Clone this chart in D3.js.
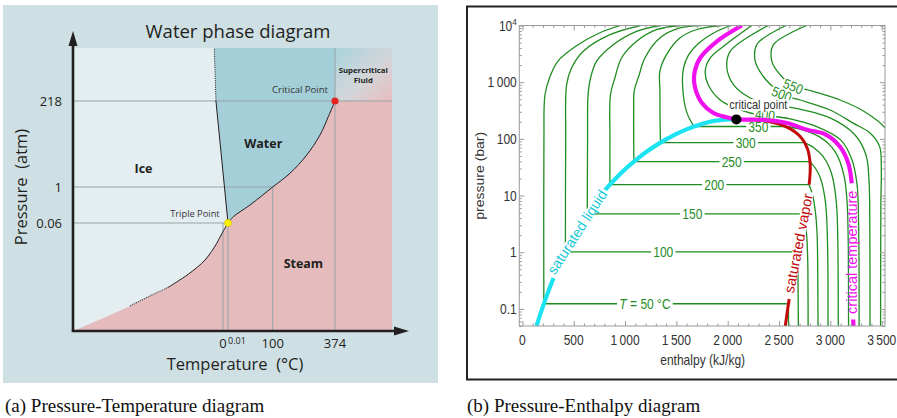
<!DOCTYPE html>
<html><head><meta charset="utf-8">
<script src="https://cdn.jsdelivr.net/npm/d3@7/dist/d3.min.js"></script>
<style>
html,body{margin:0;padding:0;background:#fff;}
svg{display:block;}
</style></head><body>
<svg id="chart" width="897" height="418"></svg>
<script>
// ================= Panel (a) data: Pressure–Temperature (schematic axes) =================
const ptTempBreaks = [-100, 0, 0.01, 100, 374, 500];      // °C (schematic axis breaks)
const ptPressBreaks = [1e-4, 0.06, 1, 218, 1e4];          // atm (schematic axis breaks)
const ptTempTicks = [0, 100, 374];
const ptTempTickLabels = ["0", "100", "374"];
const ptPressTicks = [0.06, 1, 218];
const ptPressTickLabels = ["0.06", "1", "218"];
const triplePoint = [0.01, 0.06];
const criticalPointPT = [374, 218];
const sublimationCurve = [[-100,1e-4],[-83,1.9e-4],[-62,4.4e-4],[-49.8,7.6e-4],[-36.5,1.33e-3],[-23.1,2.9e-3],[-12,6.7e-3],[-4.2,0.018],[-0.8,0.032],[0.01,0.06]];
const fusionCurve = [[0.01,0.06],[-4.7,218],[-5.8,1e4]];
const vaporizationCurve = [[0.01,0.06],[11.9,0.098],[49.2,0.245],[100,1],[176,2.36],[249.5,7.4],[308,25.9],[344.5,81.5],[374,218]];
const regionNames = ["Ice", "Water", "Steam"];
const regionLabelAt = [[-53,3.2],[79,15.4],[235,0.0055]];

// ================= Panel (b) data: Pressure–Enthalpy of water =================
const phEnthalpyTicks = [0,500,1000,1500,2000,2500,3000,3500];
const phEnthalpyTickLabels = ["0","500","1\u2009000","1\u2009500","2\u2009000","2\u2009500","3\u2009000","3\u2009500"];
const phPressTicks = [0.1,1,10,100,1000,10000];
const phPressTickLabels = ["0.1","1","10","100","1\u2009000","10^4"];
const criticalPointPH = [2084, 220.6];
const satLiquidLow = [[137.8,0.05],[191.8,0.1],[251.4,0.2],[303,0.35]];
const satLiquidHigh = [[798,12],[852,15.55],[908.6,20],[1008,30],[1086,39.76],[1213,60],[1345,85.9],[1408,100],[1491,120],[1611,150],[1671,165.3],[1732,180],[1827,200],[1888,210],[2011,220],[2084,220.6]];
const satVaporLow = [[2599,0.15],[2584,0.1],[2561,0.05]];
const satVaporHigh = [[2084,220.6],[2160,220],[2340,210],[2411,200],[2510,180],[2564,165.3],[2611,150],[2685,120],[2725,100],[2749,85.9],[2785,60],[2801,40],[2804,30],[2799,20],[2793,15.55]];
const critTempHigh = [[2138,10000],[1895,5262],[1732,2672],[1674,1356],[1683,790],[1749,430],[1861,286],[1992,240],[2084,220.6],[2348,216],[2576,190],[2770,145],[2950,120],[3094,72.8],[3175,37],[3208,16.5]];
const critTempLow = [[3222,0.065],[3224,0.05]];
const isoTemps = [50,100,150,200,250,300,350];
const isoSatPressure = [0.1235,1.014,4.76,15.55,39.76,85.9,165.3];
const isoSatLiquidH = [209,419,632,852,1086,1345,1671];
const isoSatVaporH = [2591,2676,2746,2793,2801,2749,2564];
const isoLiquidBranch = [
  [[209,0.1235],[210,100],[220,600],[264,1186],[345,2337],[520,4295],[750,7375],[955,10000]],
  [[419,1.014],[422,100],[431,904],[479,1780],[593,3508],[853,6878],[1150,10000]],
  [[632,4.76],[635,100],[640,600],[664,1186],[722,2337],[885,4585],[1112,7900],[1350,10000]],
  [[852,15.55],[853,100],[858,600],[901,1186],[966,2672],[1112,5262],[1306,8435],[1545,10000]],
  [[1086,39.76],[1084,300],[1090,700],[1138,1356],[1193,2672],[1339,6025],[1534,9035],[1745,10000]],
  [[1345,85.9],[1340,300],[1340,700],[1339,1557],[1404,3055],[1534,6025],[1700,8500],[1940,10000]],
  [[1671,165.3],[1600,300],[1560,904],[1570,1780],[1620,3055],[1720,4910],[1880,7680],[2034,10000]]
];
const isoVaporBranch = [
  [[2591,0.1235],[2593,0.05]],
  [[2676,1.014],[2683,0.5],[2687,0.1],[2688,0.05]],
  [[2746,4.76],[2769,2],[2777,1],[2781,0.5],[2783,0.05]],
  [[2793,15.55],[2828,10],[2855,5],[2871,2],[2875,1],[2879,0.1],[2880,0.05]],
  [[2801,39.76],[2856,30],[2904,20],[2943,10],[2961,5],[2974,1],[2977,0.05]],
  [[2749,85.9],[2839,70],[2925,50],[2994,30],[3024,20],[3051,10],[3065,5],[3074,1],[3077,0.05]],
  [[2564,165.3],[2693,150],[2848,120],[2924,100],[2988,80],[3044,60],[3093,40],[3138,20],[3158,10],[3168,5],[3175,1],[3177,0.05]]
];
const isoLabelH = [1194,1372,1655,1869,2039,2175,2298];
const superTemps = [400,450,500,550];
const superIsotherms = [
  [[2235,10000],[1975,4530],[1829,2672],[1781,1557],[1810,904],[1927,485],[2073,351],[2219,286],[2365,259],[2608,226],[2851,169],[3100,96],[3211,42.5],[3260,15.4],[3275,3],[3280,0.05]],
  [[2394,10000],[2024,3508],[1992,1780],[2056,904],[2219,527],[2445,392],[2608,361],[2997,234],[3240,117],[3347,52],[3376,18.8],[3384,3],[3386,0.05]],
  [[2569,10000],[2287,4720],[2267,2366],[2335,1340],[2452,790],[2540,594],[2705,485],[2997,323],[3221,190],[3386,127],[3480,73],[3496,32],[3492,8],[3490,1],[3489,0.05]],
  [[2770,10000],[2445,4585],[2430,2337],[2510,1356],[2637,857],[2770,738],[3094,485],[3337,298],[3532,156],[3580,100],[3596,10],[3598,0.05]]
];
const superLabelTemps = [400,500,550];
const superLabelAt = [[2363,267],[2526,619],[2639,845]];
const criticalLabelAt = [2298,412];
const satLiquidLabelAt = [532,2.28];
const satVaporLabelAt = [2687,1.44];
const critTempLabelAt = [3213,1.0];

// ================= drawing =================
const svg = d3.select("#chart");
const FA = "'Open Sans','Noto Sans',sans-serif";
const FB = "'Liberation Sans',Arial,sans-serif";
const ink = "#231f20";
const rev = a => a.slice().reverse();

// ---------- Panel (a) ----------
const gA = svg.append("g");
gA.append("rect").attr("x",3).attr("y",5).attr("width",435).attr("height",378).attr("fill","#cfe0e4");

const xT = d3.scaleLinear().domain(ptTempBreaks).range([73,223,228,272.7,335,392]);
const yP = d3.scaleLog().domain(ptPressBreaks).range([331,223,187,101,48]);
const lineA = d3.line().x(d=>xT(d[0])).y(d=>yP(d[1]));
const curveA = d3.line().x(d=>xT(d[0])).y(d=>yP(d[1])).curve(d3.curveCatmullRom.alpha(0.5));
const P = d => `${xT(d[0])},${yP(d[1])}`;
const seg = (pts, curved) => "L" + (curved ? curveA : lineA)(pts).slice(1);
const Tmin = ptTempBreaks[0], Tmax = ptTempBreaks[ptTempBreaks.length-1];
const Pmin = ptPressBreaks[0], Pmax = ptPressBreaks[ptPressBreaks.length-1];
const fusionTop = fusionCurve[fusionCurve.length-1];
const [Tc, Pc] = criticalPointPT;

const defs = svg.append("defs");
const grad = defs.append("linearGradient").attr("id","scf").attr("x1",0).attr("y1",0).attr("x2",1).attr("y2",1);
grad.append("stop").attr("offset","0%").attr("stop-color","#a9d3dc");
grad.append("stop").attr("offset","55%").attr("stop-color","#d3d6da");
grad.append("stop").attr("offset","100%").attr("stop-color","#e8bcbe");

const icePath = "M" + P([Tmin,Pmax]) + seg(rev(fusionCurve), false) + seg(rev(sublimationCurve), true) + "Z";
const waterPath = "M" + P(fusionTop) + seg([[Tc,Pmax],[Tc,Pc]], false) + seg(rev(vaporizationCurve), true) + seg(fusionCurve, false) + "Z";
const steamPath = "M" + P(sublimationCurve[0]) + seg(sublimationCurve, true) + seg(vaporizationCurve, true) + seg([[Tmax,Pc],[Tmax,Pmin]], false) + "Z";
gA.append("path").attr("d", icePath).attr("fill","#e4eef1");
gA.append("path").attr("d", steamPath).attr("fill","#e6bbbd");
gA.append("path").attr("d", waterPath).attr("fill","#a4cfd9");
gA.append("rect").attr("x",xT(Tc)).attr("y",yP(Pmax)).attr("width",xT(Tmax)-xT(Tc)).attr("height",yP(Pc)-yP(Pmax)).attr("fill","url(#scf)");

// grid lines (to the curve intersections)
const gridCol = "#97a3a6";
const hGrid = [[Pc, Tmax],[1, 100],[triplePoint[1], triplePoint[0]]];
hGrid.forEach(([p, tEnd]) => gA.append("line").attr("x1",xT(Tmin)).attr("x2",xT(tEnd)).attr("y1",yP(p)).attr("y2",yP(p)).attr("stroke",gridCol).attr("stroke-width",1));
const vGrid = [[0, triplePoint[1]],[triplePoint[0], triplePoint[1]],[100, 1],[Tc, Pmax]];
vGrid.forEach(([t, pEnd]) => gA.append("line").attr("x1",xT(t)).attr("x2",xT(t)).attr("y1",yP(Pmin)).attr("y2",yP(pEnd)).attr("stroke",gridCol).attr("stroke-width",1));

// phase boundary curves
const cStroke = g => g.attr("fill","none").attr("stroke",ink).attr("stroke-width",1);
gA.append("path").attr("d", curveA(sublimationCurve.slice(2,5))).call(cStroke).attr("stroke-dasharray","1,1.2").attr("stroke-width",1.1);
gA.append("path").attr("d", curveA(sublimationCurve.slice(4))).call(cStroke);
gA.append("path").attr("d", lineA(fusionCurve.slice(0,2))).call(cStroke);
gA.append("path").attr("d", lineA(fusionCurve.slice(1))).call(cStroke).attr("stroke-dasharray","1,1.2");
gA.append("path").attr("d", curveA(vaporizationCurve)).call(cStroke);

gA.append("circle").attr("cx",xT(triplePoint[0])).attr("cy",yP(triplePoint[1])).attr("r",3.6).attr("fill","#fff200").attr("stroke","#c9b800").attr("stroke-width",0.5);
gA.append("circle").attr("cx",xT(Tc)).attr("cy",yP(Pc)).attr("r",3.6).attr("fill","#e2231f");

// axes with arrows
const x0 = xT(Tmin), y0 = yP(Pmin), yTop = yP(Pmax), xRight = xT(Tmax);
gA.append("line").attr("x1",x0).attr("y1",y0).attr("x2",x0).attr("y2",yTop-3).attr("stroke",ink).attr("stroke-width",2.6);
gA.append("path").attr("d",`M${x0},${yTop-17}L${x0-4.5},${yTop-2}L${x0+4.5},${yTop-2}Z`).attr("fill",ink);
gA.append("line").attr("x1",x0-1.3).attr("y1",y0).attr("x2",xRight+4).attr("y2",y0).attr("stroke",ink).attr("stroke-width",2.6);
gA.append("path").attr("d",`M${xRight+17},${y0}L${xRight+2},${y0-4.5}L${xRight+2},${y0+4.5}Z`).attr("fill",ink);

// tick labels
ptPressTicks.forEach((p,i) => gA.append("text").attr("x",62).attr("y",yP(p)).attr("dy","0.36em").attr("text-anchor","end")
  .attr("font-family",FA).attr("font-size",13).attr("fill",ink).text(ptPressTickLabels[i]));
ptTempTicks.forEach((t,i) => gA.append("text").attr("x",xT(t)).attr("y",y0+17).attr("text-anchor","middle")
  .attr("font-family",FA).attr("font-size",13).attr("fill",ink).text(ptTempTickLabels[i]));
gA.append("text").attr("x",xT(triplePoint[0])).attr("y",y0+12.5).attr("text-anchor","start")
  .attr("font-family",FA).attr("font-size",9).attr("fill",ink).text(String(triplePoint[0]));

// titles
gA.append("text").attr("x",238).attr("y",37.5).attr("text-anchor","middle").attr("font-family",FA).attr("font-size",18.5).attr("fill",ink).text("Water phase diagram");
gA.append("text").attr("x",235).attr("y",369.5).attr("text-anchor","middle").attr("font-family",FA).attr("font-size",16.5).attr("fill",ink)
  .style("white-space","pre").text("Temperature  (°C)");
gA.append("text").attr("transform","translate(27,187) rotate(-90)").attr("text-anchor","middle").attr("font-family",FA).attr("font-size",16.5).attr("fill",ink)
  .style("white-space","pre").text("Pressure  (atm)");

// region & point labels
regionNames.forEach((n,i) => gA.append("text").attr("x",xT(regionLabelAt[i][0])).attr("y",yP(regionLabelAt[i][1])).attr("dy","0.36em")
  .attr("text-anchor","middle").attr("font-family",FA).attr("font-weight","bold").attr("font-size",12.5).attr("fill",ink).text(n));
gA.append("text").attr("x",xT(220)).attr("y",yP(507)).attr("dy","0.36em").attr("text-anchor","middle").attr("font-family",FA).attr("font-size",9.5).attr("fill","#333").text("Critical Point");
gA.append("text").attr("x",xT(-18.7)).attr("y",yP(0.128)).attr("dy","0.36em").attr("text-anchor","middle").attr("font-family",FA).attr("font-size",9.3).attr("fill","#333").text("Triple Point");
gA.append("text").attr("x",xT(436.6)).attr("y",yP(2042)).attr("dy","0.36em").attr("text-anchor","middle").attr("font-family",FA).attr("font-weight","bold").attr("font-size",7.8).attr("fill",ink).text("Supercritical");
gA.append("text").attr("x",xT(436.6)).attr("y",yP(993)).attr("dy","0.36em").attr("text-anchor","middle").attr("font-family",FA).attr("font-weight","bold").attr("font-size",7.8).attr("fill",ink).text("Fluid");

// ---------- Panel (b) ----------
const gB = svg.append("g");
gB.append("rect").attr("x",467).attr("y",6.5).attr("width",440).attr("height",373).attr("fill","#fff").attr("stroke","#222").attr("stroke-width",2);

const xH = d3.scaleLinear().domain([-30,3532]).range([519.3,885]);
const yB = d3.scaleLog().domain([0.05,1e4]).range([326,25.5]);
const lineB = d3.line().x(d=>xH(d[0])).y(d=>yB(d[1])).curve(d3.curveCatmullRom.alpha(0.5));
const lineBs = d3.line().x(d=>xH(d[0])).y(d=>yB(d[1]));

defs.append("clipPath").attr("id","plotB").append("rect").attr("x",xH.range()[0]).attr("y",yB.range()[1]).attr("width",xH.range()[1]-xH.range()[0]).attr("height",yB.range()[0]-yB.range()[1]);
const plot = gB.append("g").attr("clip-path","url(#plotB)");

const green = "#1f8d1f", cyan = "#1ce3f1", magenta = "#f012ee", dred = "#c20a0a";
const greenLine = g => g.attr("fill","none").attr("stroke",green).attr("stroke-width",1.3).attr("stroke-linejoin","round");

isoTemps.forEach((T,i) => {
  plot.append("path").attr("d", lineB(isoLiquidBranch[i])).call(greenLine);
  plot.append("path").attr("d", lineBs([[isoSatLiquidH[i], isoSatPressure[i]],[isoSatVaporH[i], isoSatPressure[i]]])).call(greenLine);
  plot.append("path").attr("d", lineB(isoVaporBranch[i])).call(greenLine);
});
superIsotherms.forEach(c => plot.append("path").attr("d", lineB(c)).call(greenLine));

const halo = (t, w) => t.attr("stroke","#fff").attr("stroke-width",w).attr("stroke-linejoin","round").attr("paint-order","stroke");
// label with white background box (box height = frac of text bbox)
function boxedLabel(parent, transform, frac, padX) {
  const g = parent.append("g").attr("transform", transform);
  const t = g.append("text").attr("dy","0.36em").attr("text-anchor","middle");
  return {g, t, finish() {
    const bb = t.node().getBBox();
    g.insert("rect","text").attr("x",bb.x-padX).attr("y",bb.y + bb.height*(1-frac)/2 + 0.5).attr("width",bb.width+2*padX).attr("height",bb.height*frac).attr("fill","#fff");
  }};
}

// isotherm labels (green)
isoTemps.forEach((T,i) => {
  const L = boxedLabel(plot, `translate(${xH(isoLabelH[i])},${yB(isoSatPressure[i])}) scale(0.86,1)`, 0.55, 2.5);
  L.t.attr("font-family",FB).attr("font-size",14).attr("fill",green);
  if (i === 0) { L.t.append("tspan").attr("font-style","italic").text("T"); L.t.append("tspan").text(" = " + T + " °C"); }
  else L.t.text(String(T));
  L.finish();
});
const superLabelAngle = [6, 22, 22];
superLabelTemps.forEach((T,i) => {
  const L = boxedLabel(plot, `translate(${xH(superLabelAt[i][0])},${yB(superLabelAt[i][1])}) rotate(${superLabelAngle[i]}) scale(0.86,1)`, 0.55, 1.5);
  L.t.attr("font-family",FB).attr("font-size",14).attr("fill",green).text(String(T));
  L.finish();
});

// saturation curves and critical isotherm
const thick = (g, c, w) => g.attr("fill","none").attr("stroke",c).attr("stroke-width",w).attr("stroke-linecap","butt");
plot.append("path").attr("d", lineB(satVaporLow)).call(thick, dred, 3);
plot.append("path").attr("d", lineB(satVaporHigh)).call(thick, dred, 3);
plot.append("path").attr("d", lineB(satLiquidLow)).call(thick, cyan, 4.2);
plot.append("path").attr("d", lineB(satLiquidHigh)).call(thick, cyan, 4.2);
plot.append("path").attr("d", lineB(critTempHigh)).call(thick, magenta, 4.2);
plot.append("path").attr("d", lineB(critTempLow)).call(thick, magenta, 4.2);

let L1 = boxedLabel(plot, `translate(${xH(satLiquidLabelAt[0])},${yB(satLiquidLabelAt[1])}) rotate(-57)`, 0.6, 2);
L1.t.attr("font-family",FB).attr("font-size",14.3).attr("fill","#17c9d6").text("saturated liquid"); L1.finish();
let L2 = boxedLabel(plot, `translate(${xH(satVaporLabelAt[0])},${yB(satVaporLabelAt[1])}) rotate(-79)`, 0.6, 2);
L2.t.attr("font-family",FB).attr("font-size",14.5).attr("fill",dred).text("saturated vapor"); L2.finish();
let L4 = boxedLabel(plot, `translate(${xH(critTempLabelAt[0])},${yB(critTempLabelAt[1])}) rotate(-90)`, 0.5, 2);
L4.t.attr("font-family",FB).attr("font-size",14.5).attr("fill",magenta).text("critical temperature"); L4.finish();

let L3 = boxedLabel(plot, `translate(${xH(criticalLabelAt[0])},${yB(criticalLabelAt[1])}) scale(0.86,1)`, 0.75, 1.5);
L3.t.attr("font-family",FB).attr("font-size",12.8).attr("fill","#333").call(halo,3).text("critical point"); L3.finish();
plot.append("circle").attr("cx",xH(criticalPointPH[0])).attr("cy",yB(criticalPointPH[1])).attr("r",5).attr("fill","#000");

// frame + ticks
const tickCol = "#9a9a9a";
const minorH = d3.range(0, 3600, 100).filter(v => v % 500 !== 0);
const minorP = [];
[0.01,0.1,1,10,100,1000].forEach(d => d3.range(2,10).forEach(k => { const v = k*d; if (v >= 0.05 && v <= 1e4) minorP.push(v); }));
const styleAxis = g => { g.select(".domain").remove(); g.selectAll("line").attr("stroke",tickCol); g.selectAll("text").remove(); };
const [xl, xr] = xH.range(), [yb, yt] = yB.range();
gB.append("g").attr("transform",`translate(0,${yb})`).call(d3.axisBottom(xH).tickValues(phEnthalpyTicks).tickSize(-5)).call(styleAxis);
gB.append("g").attr("transform",`translate(0,${yb})`).call(d3.axisBottom(xH).tickValues(minorH).tickSize(-2.5)).call(styleAxis);
gB.append("g").attr("transform",`translate(0,${yt})`).call(d3.axisTop(xH).tickValues(phEnthalpyTicks).tickSize(-5)).call(styleAxis);
gB.append("g").attr("transform",`translate(0,${yt})`).call(d3.axisTop(xH).tickValues(minorH).tickSize(-2.5)).call(styleAxis);
gB.append("g").attr("transform",`translate(${xl},0)`).call(d3.axisLeft(yB).tickValues(phPressTicks).tickSize(-5)).call(styleAxis);
gB.append("g").attr("transform",`translate(${xl},0)`).call(d3.axisLeft(yB).tickValues(minorP).tickSize(-2.5)).call(styleAxis);
gB.append("g").attr("transform",`translate(${xr},0)`).call(d3.axisRight(yB).tickValues(phPressTicks).tickSize(-5)).call(styleAxis);
gB.append("g").attr("transform",`translate(${xr},0)`).call(d3.axisRight(yB).tickValues(minorP).tickSize(-2.5)).call(styleAxis);
gB.append("rect").attr("x",xl).attr("y",yt).attr("width",xr-xl).attr("height",yb-yt).attr("fill","none").attr("stroke",tickCol).attr("stroke-width",1);

// tick labels
const lab = "#333";
phEnthalpyTicks.forEach((h,i) => gB.append("text").attr("transform",`translate(${xH(h)},${yb+18.5}) scale(0.86,1)`).attr("text-anchor","middle")
  .attr("font-family",FB).attr("font-size",14).attr("fill",lab).text(phEnthalpyTickLabels[i]));
phPressTicks.forEach((p,i) => {
  const t = gB.append("text").attr("transform",`translate(${xl-2.5},${yB(p)}) scale(0.86,1)`).attr("dy","0.36em").attr("text-anchor","end")
    .attr("font-family",FB).attr("font-size",14).attr("fill",lab);
  const s = phPressTickLabels[i];
  if (s.includes("^")) { const [b,e] = s.split("^"); t.append("tspan").text(b); t.append("tspan").attr("font-size",9.5).attr("dy","-0.55em").text(e); }
  else t.text(s);
});
gB.append("text").attr("transform",`translate(${(xl+xr)/2 + 0.5},365) scale(0.86,1)`).attr("text-anchor","middle").attr("font-family",FB).attr("font-size",14).attr("fill",lab).text("enthalpy (kJ/kg)");
gB.append("text").attr("transform",`translate(483.5,${(yb+yt)/2}) rotate(-90) scale(1,0.86)`).attr("text-anchor","middle").attr("font-family",FB).attr("font-size",14).attr("fill",lab).text("pressure (bar)");

// ---------- captions ----------
svg.append("text").attr("x",5).attr("y",412).attr("font-family","'Liberation Serif','Times New Roman',serif").attr("font-size",19).attr("fill","#111").text("(a) Pressure-Temperature diagram");
svg.append("text").attr("x",467).attr("y",412).attr("font-family","'Liberation Serif','Times New Roman',serif").attr("font-size",19).attr("fill","#111").text("(b) Pressure-Enthalpy diagram");
</script>
</body></html>
